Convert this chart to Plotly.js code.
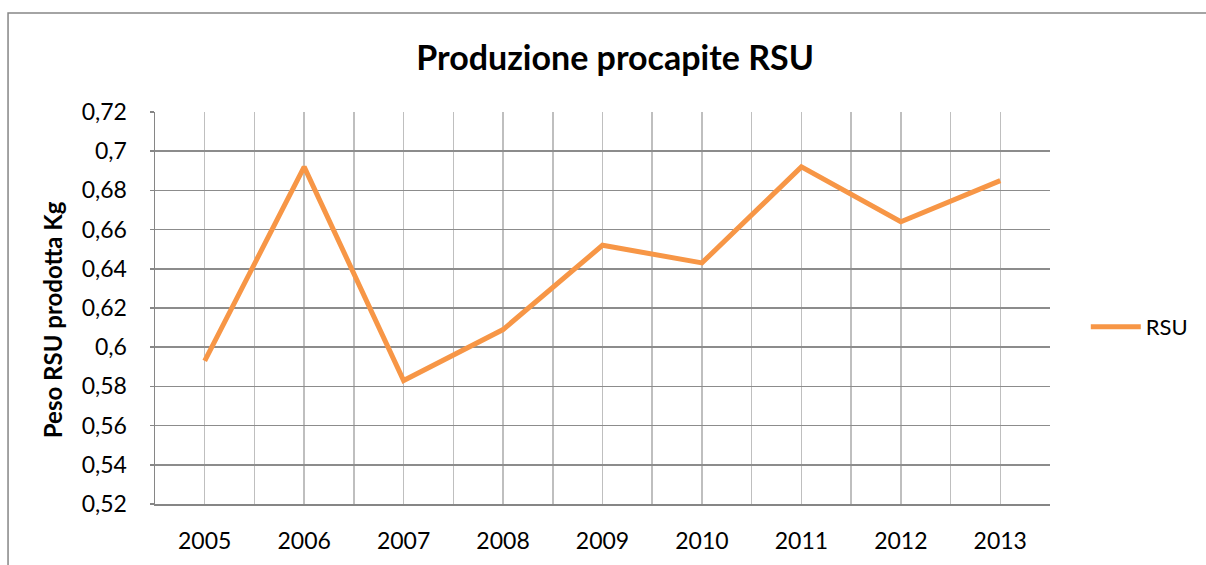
<!DOCTYPE html>
<html>
<head>
<meta charset="utf-8">
<script src="https://cdn.plot.ly/plotly-3.0.1.min.js"></script>
<style>html,body{margin:0;padding:0;background:#fff}</style>
</head>
<body>
<div id="chart" style="width:1206px;height:565px"></div>
<script>
var years = [2005, 2006, 2007, 2008, 2009, 2010, 2011, 2012, 2013];
var rsu = [0.593, 0.692, 0.583, 0.609, 0.652, 0.643, 0.692, 0.664, 0.685];
var seriesName = 'RSU';
var chartTitle = 'Produzione procapite RSU';
var yTitle = 'Peso RSU prodotta Kg';

var FONT = 'Lato, "Open Sans", sans-serif';

var trace = {
  x: years, y: rsu, name: seriesName, type: 'scatter', mode: 'lines',
  line: {color: '#F79646', width: 5, shape: 'linear'},
  showlegend: true
};

var layout = {
  width: 1206, height: 565,
  margin: {l: 155, r: 156, t: 112, b: 61},
  paper_bgcolor: '#ffffff', plot_bgcolor: '#ffffff',
  separators: ',.',
  font: {family: FONT, size: 23, color: '#000'},
  title: {text: '<b>' + chartTitle + '</b>', font: {family: FONT, size: 34, color: '#000'},
          x: 0.51, xref: 'container', y: 0.897, yref: 'container', xanchor: 'center', yanchor: 'middle'},
  xaxis: {
    type: 'linear', range: [2004.5, 2013.5], tickmode: 'linear', tick0: 2005, dtick: 1,
    tickformat: 'd', showgrid: true, gridcolor: '#bfbfbf', gridwidth: 1.5,
    minor: {tickmode: 'linear', tick0: 2004.5, dtick: 1, showgrid: true, gridcolor: '#bfbfbf', gridwidth: 1.5},
    showline: true, linecolor: '#868686', linewidth: 1.5, zeroline: false,
    ticks: '', ticklabelstandoff: 16, tickfont: {family: FONT, size: 23}
  },
  yaxis: {
    range: [0.52, 0.72], tickmode: 'linear', tick0: 0.52, dtick: 0.02,
    showgrid: true, gridcolor: '#8c8c8c', gridwidth: 1.5,
    showline: true, linecolor: '#868686', linewidth: 1.5, zeroline: false,
    ticks: 'outside', ticklen: 4, tickcolor: '#868686', tickwidth: 1.5,
    ticklabelstandoff: 18, tickfont: {family: FONT, size: 23}
  },
  legend: {x: 1.04, xanchor: 'left', y: 0.4515, yanchor: 'middle', bgcolor: 'rgba(0,0,0,0)',
           font: {family: FONT, size: 22}, itemwidth: 50},
  annotations: [{
    text: '<b>' + yTitle + '</b>', textangle: -90, xref: 'paper', yref: 'paper',
    x: -0.115, y: 0.469, xanchor: 'center', yanchor: 'middle', showarrow: false,
    font: {family: FONT, size: 24, color: '#000'}
  }],
  shapes: [{
    type: 'path', xref: 'paper', yref: 'paper', layer: 'below',
    path: 'M -0.1642 -0.2 L -0.1642 1.2526 L 1.2 1.2526',
    line: {color: '#868686', width: 1.5}
  }]
};

Plotly.newPlot('chart', [trace], layout, {displayModeBar: false, staticPlot: true});
</script>
</body>
</html>
